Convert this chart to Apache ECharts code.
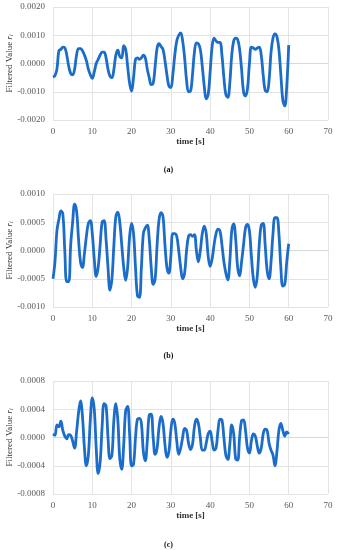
<!DOCTYPE html>
<html><head><meta charset="utf-8">
<script src="https://cdn.jsdelivr.net/npm/echarts@6/dist/echarts.min.js"></script>
<style>html,body{margin:0;padding:0;background:#fff}#c{width:337px;height:550px}</style>
</head><body><div id="c"></div>
<script>
// time samples [s]
const timeS = [0,0.5,1,1.5,2,2.5,3,3.5,4,4.5,5,5.5,6,6.5,7,7.5,8,8.5,9,9.5,10,10.5,11,11.5,12,12.5,13,13.5,14,14.5,15,15.5,16,16.5,17,17.5,18,18.5,19,19.5,20,20.5,21,21.5,22,22.5,23,23.5,24,24.5,25,25.5,26,26.5,27,27.5,28,28.5,29,29.5,30,30.5,31,31.5,32,32.5,33,33.5,34,34.5,35,35.5,36,36.5,37,37.5,38,38.5,39,39.5,40,40.5,41,41.5,42,42.5,43,43.5,44,44.5,45,45.5,46,46.5,47,47.5,48,48.5,49,49.5,50,50.5,51,51.5,52,52.5,53,53.5,54,54.5,55,55.5,56,56.5,57,57.5,58,58.5,59,59.5,60];
// filtered values (panel a, b, c) in units of 1e-4
const valuesA = [-4.8,-4.3,-2,4.5,5,5.8,5.6,3,-1,-3.5,-4,-2,3,5.3,5.3,4.5,3,1,-2,-4,-5.3,-3,0,1.5,3,4,4,2,-2,-4.5,-5,-2,3,4.7,2.5,2,6.3,5,-1,-7,-9.8,-5,1.5,2,1.5,2,3,2,-2,-5,-7.5,-7,-1,5.5,7,6,5,1,-4,-8,-8.5,-4,3,8,10,10.8,8,2,-6,-10,-9.8,-4,4,7.3,7,5,-1,-8,-12.5,-11,-3,6,9,8,7.5,7.5,3,-5,-11,-12,-7,3,8,9,8.5,5,-2,-10,-11.5,-9,0,5.8,5.5,5,5.5,5.8,3,-4,-9.5,-10,-6,4,9,10.5,9.5,5,-4,-13,-15,-8,6.5];
const valuesB = [-5,-2,3.5,5.5,7,6.5,0,-5.5,-5.5,1,5,8.2,7,2,-2,-3,-0.5,2.5,4.8,5.3,3,-1.5,-4.6,-3,1,5,5.3,2,-3,-7,-5,1,6,6.8,5,1,-3,-5.3,-3,2.5,4.8,3,-3,-8,-8.3,-3,3,4,4.5,2,-3,-6,-5,1,5.5,6.7,6,1,-3,-4,-1,3,3,2.5,0,-3,-5,-4,0,2.5,2.8,2.5,2.8,0,-2,0,3,4.3,3,-1,-2.8,-1.5,1,3,3.8,3.5,1,-2,-4,-5.2,-2,3.5,4.7,2,-3,-4.5,-2,1,4,4.6,3.5,-1,-5,-6.5,-4.5,1,4.5,4.8,1,-3.5,-5,-2,3,5.8,5.8,3,-3,-6.3,-6,-2,1.2];
const valuesC = [0.5,0.3,1.8,1.5,2.3,1,0.2,-0.2,0.4,0.3,-0.5,-1.5,0.8,3.5,5.2,3,-1.5,-4,-2.5,2.5,5.6,4,-1.5,-5.1,-3.5,1.5,4.8,4.5,0,-3,-2.5,2.5,4.8,2.5,-3,-4.5,-1,3.8,4.4,0.5,-4,-3.8,0,2.6,2.7,2,-2,-3.3,-0.5,3.2,3.3,0,-2.4,-1.5,1.5,3,2,-1,-2.8,-2,1,2.6,2,-0.5,-2.4,-1.5,0,1.3,1,-0.8,-1.7,-1,1.5,2.6,2,0,-1.8,-1.8,-0.8,0.5,0.9,-0.5,-1.8,-1.5,1,2.6,2.5,0,-2.5,-3.1,-1,1.8,0.5,-3,-3.2,0,2.4,2.5,1,-1.5,-2.2,-0.5,0.5,0.2,-1.2,-2.2,-1.5,0.5,1.2,1,-0.8,-1.8,-2.5,-4,-2,1,2,1,0.2,0.8,0.5];
const valueScale = 1e-4;
const panelLabels = ['(a)','(b)','(c)'];
const yRanges = [[-0.002,0.002,0.001],[-0.001,0.001,0.0005],[-0.0008,0.0008,0.0004]];
const xRange = [0,70,10];

const chart = echarts.init(document.getElementById('c'));
const serif = '"Liberation Serif","DejaVu Serif",serif';
const tops = [7,194,381];
const H = 113;
const series = [valuesA,valuesB,valuesC];
const grids=[],xAxes=[],yAxes=[],ser=[],titles=[];
const lblTop=[166,352,541];
for(let i=0;i<3;i++){
  grids.push({left:53,right:9,top:tops[i],height:H,containLabel:false,outerBoundsMode:'none'});
  xAxes.push({type:'value',gridIndex:i,min:xRange[0],max:xRange[1],interval:xRange[2],
    name:'time [s]',nameLocation:'middle',nameGap:17,nameMoveOverlap:false,
    nameTextStyle:{fontFamily:serif,fontSize:9,color:'#333',fontWeight:'bold'},
    axisLine:{show:true,lineStyle:{color:'#d9d9d9'}},axisTick:{show:false},
    axisLabel:{fontFamily:serif,fontSize:9,color:'#595959',margin:7},
    splitLine:{show:true,lineStyle:{color:'#e3e3e3'}}});
  yAxes.push({type:'value',gridIndex:i,min:yRanges[i][0],max:yRanges[i][1],interval:yRanges[i][2],
    name:'{n|Filtered Value }{r|r}{s|i}',nameLocation:'middle',nameGap:39,nameMoveOverlap:false,
    nameTextStyle:{rich:{n:{fontFamily:serif,fontSize:9,color:'#333'},r:{fontFamily:serif,fontSize:9,fontStyle:'italic',color:'#333'},s:{fontFamily:serif,fontSize:6,fontStyle:'italic',color:'#333',verticalAlign:'bottom'}}},
    axisLine:{show:false},axisTick:{show:false},
    axisLabel:{fontFamily:serif,fontSize:9,color:'#595959',margin:8,formatter:v=>v.toFixed(4)},
    splitLine:{show:true,lineStyle:{color:'#e3e3e3'}}});
  ser.push({type:'line',xAxisIndex:i,yAxisIndex:i,showSymbol:false,smooth:0.4,
    lineStyle:{color:'#1c6dc9',width:2.8},itemStyle:{color:'#1c6dc9'},
    data:timeS.map((t,k)=>[t,series[i][k]*valueScale]),animation:false});
  titles.push({text:panelLabels[i],left:'center',top:lblTop[i],padding:0,textStyle:{fontFamily:serif,fontSize:8,fontWeight:'bold',color:'#111'}});
}
chart.setOption({animation:false,title:titles,grid:grids,xAxis:xAxes,yAxis:yAxes,series:ser});
</script></body></html>
